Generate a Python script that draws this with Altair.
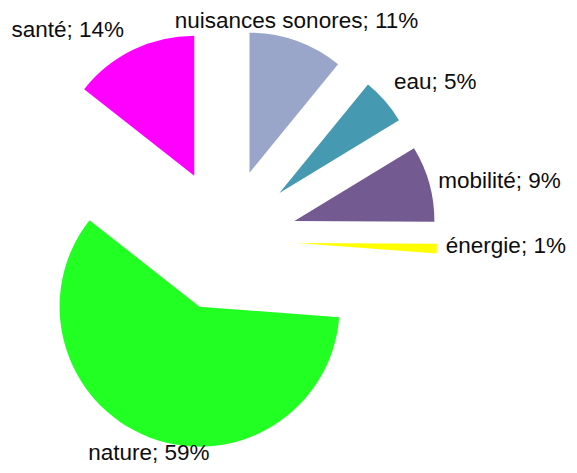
import altair as alt
import pandas as pd

# ---- data ----
categories = ["nuisances sonores", "eau", "mobilité", "énergie", "nature", "santé"]
values = [10.9, 5.4, 8.8, 1.1, 59.4, 14.4]
colors = ["#99A6C9", "#4599B0", "#735A90", "#FFFF00", "#22FF22", "#FF00FF"]

# ---- layout constants ----
CX, CY = 217.5, 232.0    # pie centre (px in plot area)
EXPLODE = 71.5            # radial explosion of every slice
RADIUS = 140
GAP_X = 9
BASE_ABOVE, BASE_SIDE, BASE_BELOW = -12.5, 4, 23   # baseline offsets of labels
FONT = "Liberation Sans"
FONT_SIZE = 22.5

df = pd.DataFrame({
    "cat": categories,
    "value": values,
    "order": list(range(len(categories))),
    "label": [f"{c}; {round(v)}%" for c, v in zip(categories, values)],
})

base = alt.Chart(df).transform_joinaggregate(
    total="sum(value)"
).transform_window(
    cum="sum(value)", sort=[alt.SortField("order")], frame=[None, 0]
).transform_calculate(
    t1="2*PI*datum.cum/datum.total",
    t0="2*PI*(datum.cum-datum.value)/datum.total",
).transform_calculate(
    mid="(datum.t0+datum.t1)/2"
).transform_calculate(
    cx=f"{CX}+{EXPLODE}*sin(datum.mid)",
    cy=f"{CY}-{EXPLODE}*cos(datum.mid)",
    lx=f"{CX}+{EXPLODE + RADIUS}*sin(datum.mid)",
    ly=f"{CY}-{EXPLODE + RADIUS}*cos(datum.mid)",
    fx="sin(datum.mid) > 0.4 ? 1 : (sin(datum.mid) < -0.4 ? -1 : 0)",
    fy="-cos(datum.mid) > 0.4 ? 1 : (-cos(datum.mid) < -0.4 ? -1 : 0)",
).transform_calculate(
    tx=f"datum.lx + datum.fx*{GAP_X}",
    ty=f"datum.ly + (datum.fy < 0 ? {BASE_ABOVE} : (datum.fy > 0 ? {BASE_BELOW} : {BASE_SIDE}))",
)

arcs = base.mark_arc(outerRadius=RADIUS).encode(
    x=alt.X("cx:Q", scale=None, axis=None),
    y=alt.Y("cy:Q", scale=None, axis=None),
    theta=alt.Theta("t0:Q", scale=None),
    theta2="t1:Q",
    color=alt.Color("cat:N", scale=alt.Scale(domain=categories, range=colors), legend=None),
)

layers = [arcs]
aligns = {-1: "right", 0: "center", 1: "left"}
for fx in (-1, 0, 1):
    layers.append(
        base.transform_filter(f"datum.fx == {fx}").mark_text(
            align=aligns[fx], baseline="alphabetic", font=FONT, fontSize=FONT_SIZE, color="#0d0d0d"
        ).encode(
            x=alt.X("tx:Q", scale=None, axis=None),
            y=alt.Y("ty:Q", scale=None, axis=None),
            text="label:N",
        )
    )

chart = alt.layer(*layers).properties(
    width=561, height=457, autosize=alt.AutoSizeParams(type="none"), padding=0,
    background="white",
).configure_view(stroke="transparent", strokeWidth=0)

chart.save("out.html", embed_options={"renderer": "svg", "actions": False})
